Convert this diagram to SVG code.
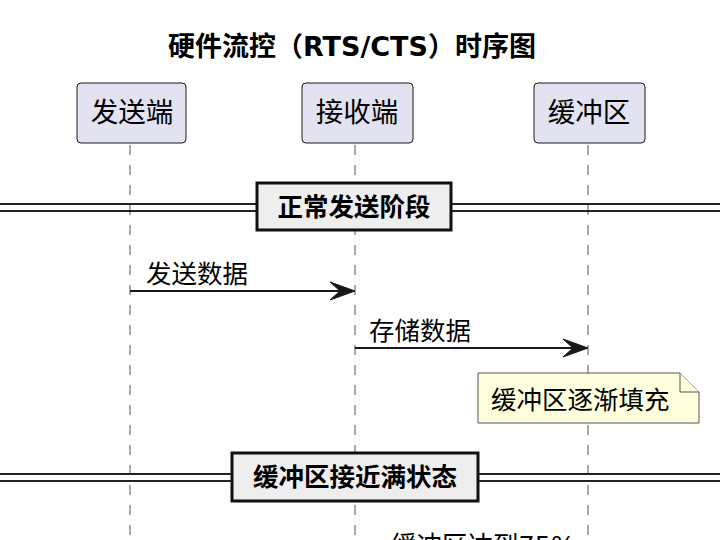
<svg xmlns="http://www.w3.org/2000/svg" width="720" height="540" viewBox="0 0 720 540">
<style>
text{font-family:"DejaVu Sans","Noto Sans CJK SC",sans-serif;fill:#000}
.title{font-size:27px;font-weight:bold}
.part{fill:#E2E2F0;stroke:#181818;stroke-width:1}
.ptext{font-size:27.5px}
.life{stroke:#555;stroke-width:1;stroke-dasharray:10,10;fill:none}
.sepline{stroke:#222;stroke-width:2}
.sepbox{fill:#EEEEEE;stroke:#111;stroke-width:3}
.septext{font-size:25.5px;font-weight:bold}
.msg{stroke:#181818;stroke-width:2;fill:none}
.head{fill:#181818;stroke:#181818;stroke-width:1}
.mtext{font-size:25.5px}
.note{fill:#FEFFDD;stroke:#555;stroke-width:1}
</style>
<text class="title" x="352" y="56" text-anchor="middle">硬件流控（RTS/CTS）时序图</text>
<g id="lifelines">
<line class="life" x1="130" y1="145" x2="130" y2="540"/>
<line class="life" x1="355" y1="145" x2="355" y2="540"/>
<line class="life" x1="588" y1="145" x2="588" y2="540"/>
</g>
<g id="p-sender">
<rect class="part" x="77" y="83" width="109" height="60" rx="4"/>
<text class="ptext" x="132" y="122" text-anchor="middle">发送端</text>
</g>
<g id="p-receiver">
<rect class="part" x="302" y="83" width="111" height="60" rx="4"/>
<text class="ptext" x="357" y="122" text-anchor="middle">接收端</text>
</g>
<g id="p-buffer">
<rect class="part" x="534" y="83" width="111" height="60" rx="4"/>
<text class="ptext" x="589" y="122" text-anchor="middle">缓冲区</text>
</g>
<g id="sep1">
<line class="sepline" x1="0" y1="204" x2="720" y2="204"/>
<line class="sepline" x1="0" y1="211" x2="720" y2="211"/>
<rect class="sepbox" x="257" y="183" width="194" height="47"/>
<text class="septext" x="354" y="216" text-anchor="middle">正常发送阶段</text>
</g>
<g id="connectors">
<line class="msg" x1="130" y1="291" x2="352" y2="291"/>
<polygon class="head" points="355,291 330,282 340,291 330,300"/>
<text class="mtext" x="146" y="283">发送数据</text>
<line class="msg" x1="355" y1="348" x2="585" y2="348"/>
<polygon class="head" points="588,348 563,339 573,348 563,357"/>
<text class="mtext" x="369" y="340">存储数据</text>
</g>
<g id="note1">
<path class="note" d="M478,373 L680,373 L699,392 L699,423 L478,423 Z"/>
<path class="note" d="M680,373 L680,392 L699,392" fill="none"/>
<text class="mtext" x="491" y="409">缓冲区逐渐填充</text>
</g>
<g id="sep2">
<line class="sepline" x1="0" y1="474" x2="720" y2="474"/>
<line class="sepline" x1="0" y1="481" x2="720" y2="481"/>
<rect class="sepbox" x="232" y="453" width="246" height="48"/>
<text class="septext" x="355" y="486" text-anchor="middle">缓冲区接近满状态</text>
</g>
<g id="msg3">
<text class="mtext" x="391" y="554">缓冲区达到75%</text>
</g>
</svg>
